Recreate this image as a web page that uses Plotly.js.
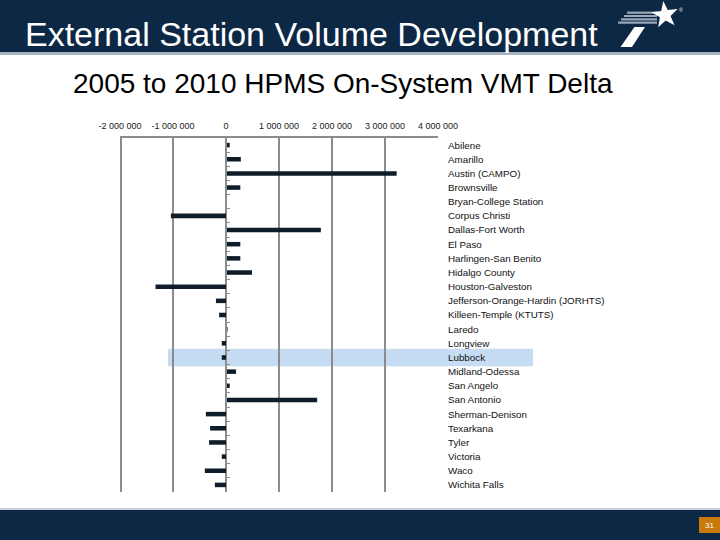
<!DOCTYPE html>
<html>
<head>
<meta charset="utf-8">
<script src="https://cdn.plot.ly/plotly-3.0.1.min.js"></script>
<style>html,body{margin:0;padding:0;background:#fff;}#chart{width:720px;height:540px;}</style>
</head>
<body>
<div id="chart"></div>
<script>
// ---- data ----
const regions = ["Abilene","Amarillo","Austin (CAMPO)","Brownsville","Bryan-College Station","Corpus Christi","Dallas-Fort Worth","El Paso","Harlingen-San Benito","Hidalgo County","Houston-Galveston","Jefferson-Orange-Hardin (JORHTS)","Killeen-Temple (KTUTS)","Laredo","Longview","Lubbock","Midland-Odessa","San Angelo","San Antonio","Sherman-Denison","Texarkana","Tyler","Victoria","Waco","Wichita Falls"];
const vmtDelta = [70000,280000,3220000,270000,0,-1040000,1790000,270000,270000,490000,-1330000,-190000,-130000,30000,-80000,-80000,190000,70000,1720000,-380000,-300000,-320000,-80000,-400000,-210000];
const xTickVals = [-2000000,-1000000,0,1000000,2000000,3000000,4000000];
const xTickText = ["-2 000 000","-1 000 000","0","1 000 000","2 000 000","3 000 000","4 000 000"];
const highlighted = "Lubbock";
const mainTitle = "External Station Volume Development";
const subTitle = "2005 to 2010 HPMS On-System VMT Delta";
const pageNumber = "31";

// ---- geometry helpers (decoration placement only) ----
const W = 720, H = 540;
const M = {l:120, r:282, t:138, b:48};
const PW = W - M.l - M.r, PH = H - M.t - M.b;
const fx = p => (p - M.l) / PW;
const fy = p => (H - M.b - p) / PH;
const xMin = xTickVals[0], xMax = xTickVals[xTickVals.length-1];
const n = regions.length;
const boundaries = Array.from({length:n+1}, (_,i) => i - 0.5);

const navy = "#0c2844";
const shapes = [
  {type:"rect", xref:"paper", yref:"paper", x0:fx(0), x1:fx(W), y0:fy(52), y1:fy(0), fillcolor:navy, line:{width:0}, layer:"above"},
  {type:"rect", xref:"paper", yref:"paper", x0:fx(0), x1:fx(W), y0:fy(55), y1:fy(52), fillcolor:"#a9b3c0", line:{width:0}, layer:"above"},
  {type:"rect", xref:"paper", yref:"paper", x0:fx(0), x1:fx(W), y0:fy(540), y1:fy(510), fillcolor:navy, line:{width:0}, layer:"above"},
  {type:"rect", xref:"paper", yref:"paper", x0:fx(0), x1:fx(W), y0:fy(510), y1:fy(508), fillcolor:"#c9d0da", line:{width:0}, layer:"above"},
  {type:"rect", xref:"paper", yref:"paper", x0:fx(699), x1:fx(720), y0:fy(533), y1:fy(517), fillcolor:"#c97a0c", line:{width:0}, layer:"above"},
  {type:"rect", xref:"paper", yref:"y", x0:fx(168), x1:fx(533), y0:regions.indexOf(highlighted)-0.62, y1:regions.indexOf(highlighted)+0.62, fillcolor:"#c6dcf2", line:{width:0}, layer:"below"}
];
[[624,12.7],[622,16],[620,19.3],[618,22.7]].forEach(s => {
  shapes.push({type:"line", xref:"paper", yref:"paper", x0:fx(s[0]+ (22.7-s[1])*0.3), x1:fx(657), y0:fy(s[1]), y1:fy(s[1]), line:{color:"#9aa7b6", width:2.2}, layer:"above"});
});
const stem = [[620.5,47],[632,47],[645,27],[634.5,27]];
shapes.push({type:"path", xref:"paper", yref:"paper", path:"M"+stem.map(p=>fx(p[0])+","+fy(p[1])).join(" L")+" Z", fillcolor:"#ffffff", line:{width:0}, layer:"above"});
(function(){
  const cx=665, cy=15, R=14, r=5.6, rot=-0.12; const pts=[];
  for(let i=0;i<10;i++){const a=-Math.PI/2+rot+i*Math.PI/5; const rr=i%2?r:R; pts.push([cx+rr*Math.cos(a), cy+rr*Math.sin(a)]);}
  shapes.push({type:"path", xref:"paper", yref:"paper", path:"M"+pts.map(p=>fx(p[0])+","+fy(p[1])).join(" L")+" Z", fillcolor:"#ffffff", line:{width:0}, layer:"above"});
})();

const annotations = [
  {text:mainTitle, xref:"paper", yref:"paper", x:fx(23), y:fy(34), xanchor:"left", yanchor:"middle", showarrow:false, font:{family:"Liberation Sans, Arial, sans-serif", size:34, color:"#ffffff"}},
  {text:"®", xref:"paper", yref:"paper", x:fx(681), y:fy(10), xanchor:"center", yanchor:"middle", showarrow:false, font:{family:"Liberation Sans, Arial, sans-serif", size:5, color:"#ffffff"}},
  {text:subTitle, xref:"paper", yref:"paper", x:fx(71), y:fy(84), xanchor:"left", yanchor:"middle", showarrow:false, font:{family:"Liberation Sans, Arial, sans-serif", size:28, color:"#000000"}},
  {text:pageNumber, xref:"paper", yref:"paper", x:fx(709.5), y:fy(525), xanchor:"center", yanchor:"middle", showarrow:false, font:{family:"Liberation Sans, Arial, sans-serif", size:8, color:"#ffffff"}}
];

const trace = {
  type:"bar", orientation:"h", x:vmtDelta, y:regions, yaxis:"y",
  marker:{color:"#0f1d2b", line:{width:0}}, hoverinfo:"x+y"
};
const ghost2 = {type:"scatter", x:[0], y:[0], yaxis:"y2", mode:"markers", marker:{opacity:0}, hoverinfo:"skip", showlegend:false};
const ghost3 = {type:"scatter", x:[0], y:[0], yaxis:"y3", mode:"markers", marker:{opacity:0}, hoverinfo:"skip", showlegend:false};

const gridCol = "#8c8c8c";
const layout = {
  width:W, height:H, margin:M, showlegend:false,
  paper_bgcolor:"#ffffff", plot_bgcolor:"rgba(0,0,0,0)",
  bargap:0.68,
  xaxis:{side:"top", range:[xMin,xMax], tickvals:xTickVals, ticktext:xTickText, ticks:"", showgrid:true, gridcolor:gridCol, gridwidth:1.6, zeroline:false, showline:true, linecolor:gridCol, linewidth:1.6, tickfont:{family:"Liberation Sans, Arial, sans-serif", size:9, color:"#222"}, ticklabelstandoff:4, fixedrange:true},
  yaxis:{type:"category", categoryarray:regions, categoryorder:"array", range:[n-0.5,-0.5], side:"right", showgrid:false, zeroline:false, showline:false, ticks:"", ticklabelstandoff:9, tickfont:{family:"Liberation Sans, Arial, sans-serif", size:9.8, color:"#111"}, fixedrange:true},
  yaxis2:{overlaying:"y", anchor:"free", position:(0-xMin)/(xMax-xMin), side:"left", range:[n-0.5,-0.5], tickvals:boundaries, showticklabels:false, ticks:"inside", ticklen:3, tickcolor:gridCol, tickwidth:1, showline:true, linecolor:gridCol, linewidth:1, showgrid:false, zeroline:false, fixedrange:true},
  yaxis3:{overlaying:"y", anchor:"free", position:0, side:"left", range:[n-0.5,-0.5], showticklabels:false, ticks:"", showline:true, linecolor:gridCol, linewidth:1.6, showgrid:false, zeroline:false, fixedrange:true},
  shapes:shapes, annotations:annotations
};
Plotly.newPlot("chart", [trace, ghost2, ghost3], layout, {displayModeBar:false, staticPlot:true});
</script>
</body>
</html>
